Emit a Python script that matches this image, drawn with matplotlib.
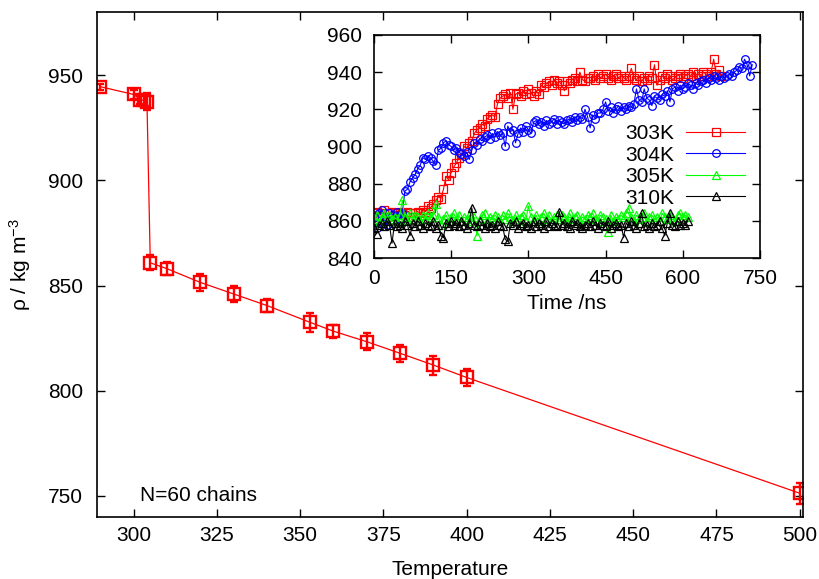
#!/usr/bin/env python

import numpy as np
import matplotlib.pyplot as plt

plt.rcParams["font.family"] = ["Liberation Sans", "DejaVu Sans"]
plt.rcParams["mathtext.fontset"] = "custom"
plt.rcParams["mathtext.rm"] = "Liberation Sans"
plt.rcParams["mathtext.it"] = "Liberation Sans:italic"
plt.rcParams["mathtext.default"] = "regular"

# main panel: density vs temperature
temperature = [290, 300, 302, 303, 304, 305, 310, 320, 330, 340, 353, 360, 370, 380, 390, 400, 500]
density = [944.5, 940.8, 938.4, 938.0, 937.3, 860.8, 858.0, 851.5, 846.0, 840.5,
           832.5, 828.3, 823.3, 817.8, 812.2, 806.3, 751.3]
density_err = [1.5, 2.0, 2.0, 2.5, 4.0, 3.5, 3.0, 4.0, 4.0, 3.0, 4.5, 3.0, 4.0, 4.0, 4.5, 4.0, 5.0]

# inset: density vs time, sampled every 5 ns
dt = 5
rho_303 = [864, 865, 863, 864, 866, 862, 864, 865, 863, 864, 865, 864, 863, 865, 864, 862, 864, 865, 864, 866, 865,
           868, 867, 869, 871, 873, 872, 877,
           884, 882, 886,
           889, 891, 894, 896, 900, 899, 902, 903,
           907, 909, 910, 912, 911,
           915, 916, 917, 916, 923,
           926, 927, 928, 926, 929, 920, 928,
           929, 927, 930, 928, 931, 929, 927, 930, 928,
           933, 932, 934, 935, 933, 936, 934, 935, 933, 930,
           935, 934, 936, 937, 935, 940, 936, 935, 937,
           937, 938, 936, 939, 937, 938, 939, 937, 936, 938, 939, 937, 938,
           937, 936, 938, 942, 937, 936, 938, 935, 937, 936, 938, 937, 944,
           933, 936, 938, 937, 939, 938, 936, 937, 938, 939, 937, 938, 939,
           938, 940, 937, 939, 938, 940, 939, 938, 940, 947, 939, 941, 938]
rho_304 = [862, 856, 864, 866, 860, 858, 864, 863, 862, 865, 861, 864,
           876, 877, 881, 883,
           885, 888, 890, 894, 893,
           895, 894, 892, 890,
           898, 899, 902, 903,
           901, 900, 898, 899, 897, 896, 895, 897,
           893, 898, 902, 901, 904, 903, 905,
           906, 904, 907, 905, 908,
           906, 907, 900, 911, 908, 909, 902, 907, 910, 908, 911, 909, 907,
           913, 914, 912, 913, 911, 914, 912, 913, 915, 912, 914, 913, 912,
           914, 915, 913, 916, 914, 916, 915, 920, 916, 910, 917, 915, 918,
           918, 920, 924, 919, 921, 918, 920, 922, 919, 921, 920, 922, 921,
           923, 931, 925, 924, 931, 926, 925, 922, 927, 926, 925, 928, 927,
           930, 924, 931, 932, 930, 933, 931, 932, 934, 933, 931, 934, 933,
           935, 936, 934, 937, 936, 938, 937, 936, 938, 937, 938, 939, 938,
           940, 941, 943, 942, 947, 944, 938, 944]
rho_305 = [861, 863, 859, 862, 864, 860, 863, 861, 862, 860, 863, 871,
           862, 860, 864, 861, 863, 862, 860, 863, 861, 864, 862, 863,
           869, 862, 858, 861, 863, 860, 862, 864, 861, 863, 860, 862,
           861, 863, 860, 862, 852, 861, 863, 864, 860, 862, 861, 863,
           862, 860, 863, 861, 864, 862, 860, 863, 861, 862, 863, 860,
           868, 862, 861, 863, 860, 862, 864, 861, 863, 860, 862, 863,
           861, 863, 862, 860, 864, 861, 862, 863, 860, 862, 861, 863,
           862, 864, 861, 860, 863, 862, 861, 854, 863, 860, 862, 861,
           863, 862, 864, 867, 862, 860, 863, 861, 862, 864, 860, 862,
           863, 861, 862, 860, 864, 862, 861, 863, 862, 860, 863, 864,
           862, 863, 862]
rho_310 = [856, 853, 858, 859, 857, 860, 858, 848, 859, 857, 858, 856,
           860, 858, 852, 859, 857, 860, 858, 856, 859, 858, 857, 860,
           856, 858, 852, 851, 859, 857, 860, 858, 859, 857, 860, 858,
           856, 859, 867, 858, 857, 860, 858, 856, 859, 857, 858, 856,
           860, 858, 857, 850, 849, 859, 858, 860, 856, 858, 859, 857,
           858, 856, 860, 857, 859, 858, 856, 860, 857, 859, 858, 857,
           865, 858, 859, 857, 856, 860, 858, 859, 857, 856, 858, 859,
           857, 860, 858, 856, 859, 858, 857, 860, 856, 858, 859, 857,
           858, 851, 859, 857, 860, 858, 856, 859, 864, 857, 858, 856,
           859, 857, 858, 860, 856, 852, 859, 864, 858, 857, 860, 858,
           859, 858, 860]

inset_series = [
    ("303K", rho_303, "red", "s"),
    ("304K", rho_304, "blue", "o"),
    ("305K", rho_305, "#00ff00", "^"),
    ("310K", rho_310, "black", "^"),
]

fg = plt.figure(figsize=(8.2, 5.79), dpi=100)
ax = fg.add_axes([0.1183, 0.1071, 0.8610, 0.8722])

ax.errorbar(
    temperature,
    density,
    yerr=density_err,
    color="red",
    marker="s",
    ms=9,
    mfc="none",
    mew=1.7,
    lw=0.9,
    elinewidth=1.7,
    capsize=3,
    capthick=1.7,
)
ax.set_xlim(289, 501)
ax.set_ylim(740, 980)
ax.set_xticks(np.arange(300, 501, 25))
ax.set_yticks(np.arange(750, 951, 50))
ax.tick_params(axis="both", direction="in", top=True, right=True, length=6, width=1, labelsize=15)
ax.tick_params(axis="x", pad=6.5)
ax.tick_params(axis="y", pad=10)
for s in ax.spines.values():
    s.set_linewidth(1.2)
ax.set_xlabel("Temperature", fontsize=15)
ax.xaxis.set_label_coords(0.5, -0.086)
ax.set_ylabel(r"ρ / kg m$^{-3}$", fontsize=15)
ax.yaxis.set_label_coords(-0.09, 0.5)
ax.text(302, 750, "N=60 chains", fontsize=15, ha="left", va="center")

# inset
ins = fg.add_axes([0.4561, 0.5544, 0.4707, 0.3852])
for name, rho, col, mk in inset_series:
    t = np.arange(len(rho)) * dt
    ins.plot(t, rho, color=col, marker=mk, ms=5.5, mfc="none", mew=0.9, lw=0.8, label=name)
ins.set_xlim(0, 750)
ins.set_ylim(840, 960)
ins.set_xticks(np.arange(0, 751, 150))
ins.set_yticks(np.arange(840, 961, 20))
ins.tick_params(axis="both", direction="in", top=True, right=True, length=6, width=1, labelsize=15)
ins.tick_params(axis="x", pad=8)
ins.tick_params(axis="y", pad=8.5)
for s in ins.spines.values():
    s.set_linewidth(1.2)
ins.set_xlabel("Time /ns", fontsize=15, labelpad=4)
ins.legend(
    loc="upper left",
    bbox_to_anchor=(0.65, 0.60),
    frameon=False,
    fontsize=15,
    markerfirst=False,
    numpoints=1,
    handlelength=2.8,
    handletextpad=0.6,
    labelspacing=0.12,
    borderpad=0,
    borderaxespad=0,
)

fg.savefig("out.png", dpi=100)
plt.close(fg)
